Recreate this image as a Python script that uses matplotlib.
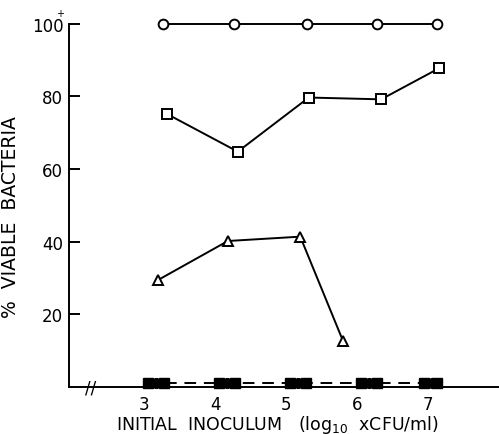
import numpy as np
import matplotlib.pyplot as plt

# values (x = log10 CFU/ml, y = % viable)
circ_x = [3.27, 4.27, 5.30, 6.28, 7.13]
circ_y = [100, 100, 100, 100, 100]
sq_x = [3.32, 4.32, 5.32, 6.34, 7.15]
sq_y = [75.2, 64.8, 79.7, 79.2, 87.7]
tri_x = [3.20, 4.18, 5.20, 5.80]
tri_y = [29.5, 40.2, 41.4, 12.8]
# filled symbols (near zero)
fsq_x = [3.05, 4.05, 5.05, 6.05, 6.95]
fcirc_x = [3.17, 4.17, 5.17, 6.17, 7.05]
fsq2_x = [3.28, 4.28, 5.28, 6.28, 7.13]
low_y = [1.0, 1.0, 1.0, 1.0, 1.0]

fig = plt.figure(figsize=(4.99, 4.35), dpi=100)
ax = fig.add_axes([0.138, 0.108, 0.862, 0.835])

ax.plot(circ_x, circ_y, '-o', color='black', lw=1.4, ms=7, mfc='white', mew=1.4, clip_on=False)
ax.plot(sq_x, sq_y, '-s', color='black', lw=1.4, ms=7, mfc='white', mew=1.4, clip_on=False)
ax.plot(tri_x, tri_y, '-^', color='black', lw=1.4, ms=7, mfc='white', mew=1.4, clip_on=False)

ax.plot([3.3, 7.1], [1.2, 1.2], '--', color='black', lw=1.4, dashes=(6, 4), clip_on=False)
ax.plot(fsq_x, low_y, 's', color='black', ms=7, ls='none', clip_on=False)
ax.plot(fcirc_x, low_y, 'o', color='black', ms=7, ls='none', clip_on=False)
ax.plot(fsq2_x, low_y, 's', color='black', ms=7, ls='none', clip_on=False)

ax.set_xlim(1.94, 8.0)
ax.set_ylim(0, 100)
ax.spines['top'].set_visible(False)
ax.spines['right'].set_visible(False)
for s in ['left', 'bottom']:
    ax.spines[s].set_linewidth(1.4)

ax.set_xticks([3, 4, 5, 6, 7])
ax.set_yticks([20, 40, 60, 80, 100])
ax.tick_params(axis='x', length=0, labelsize=12, pad=6)
ax.tick_params(axis='y', direction='in', length=8, width=1.4, labelsize=12, pad=4)

# axis break mark and superscript on 100
ax.text(2.25, 0, '//', fontsize=12, ha='center', va='center', clip_on=False)
ax.text(-0.021, 1.03, '+', fontsize=7, ha='center', va='center', transform=ax.transAxes)

ax.set_ylabel('%  VIABLE  BACTERIA', fontsize=13.5)
ax.yaxis.set_label_coords(-0.114, 0.47)
ax.set_xlabel('INITIAL  INOCULUM   (log$_{10}$  xCFU/ml)', fontsize=12.5)
ax.xaxis.set_label_coords(0.484, -0.072)

plt.savefig('out.png', dpi=100)
